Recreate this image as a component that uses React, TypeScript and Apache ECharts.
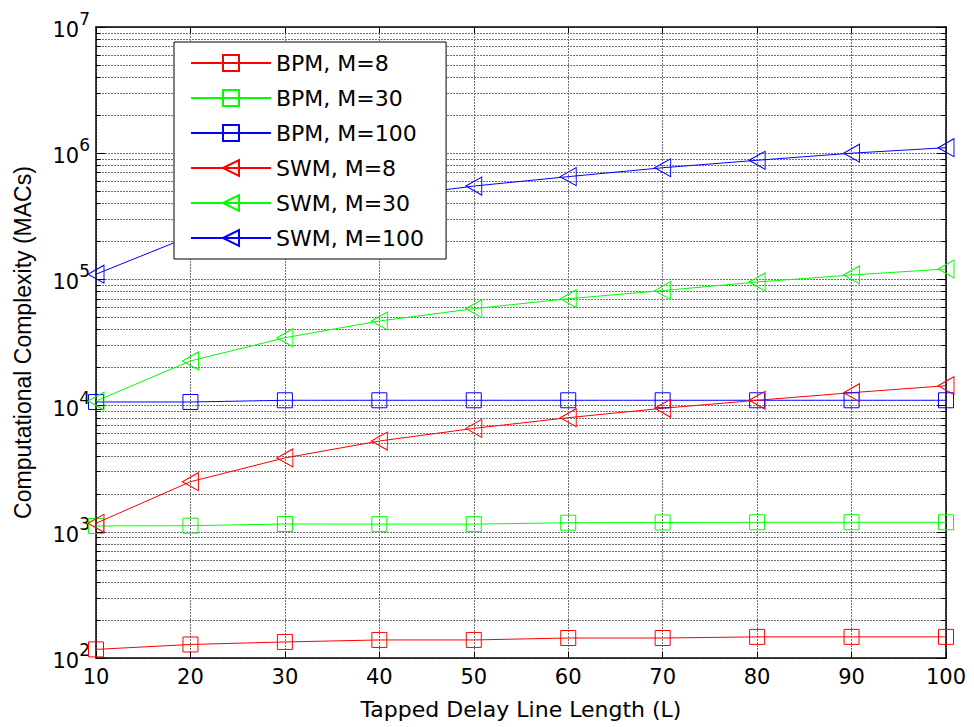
import React, { useEffect, useRef } from "react";
import * as echarts from "echarts";

const L = [10, 20, 30, 40, 50, 60, 70, 80, 90, 100];
const bpm8 = [117, 128, 134, 139, 139, 144, 144, 147, 147, 147];
const bpm30 = [1112, 1118, 1153, 1150, 1150, 1180, 1185, 1190, 1190, 1190];
const bpm100 = [10680, 10680, 11020, 11020, 11020, 11020, 11020, 11020, 11020, 11020];
const swm8 = [1168, 2494, 3850, 5240, 6600, 8020, 9520, 11020, 12650, 14380];
const swm30 = [10870, 22600, 34500, 46800, 58600, 70300, 81500, 95400, 108400, 120900];
const swm100 = [110000, 220000, 330000, 440000, 549000, 652000, 767000, 879000, 1000000, 1106000];

const seriesNames = ["BPM, M=8", "BPM, M=30", "BPM, M=100", "SWM, M=8", "SWM, M=30", "SWM, M=100"];
const decadeExps = [2, 3, 4, 5, 6];
const minorFactors = [2, 3, 4, 5, 6, 7, 8, 9];

const RED = "#ff0000";
const GREEN = "#00ff00";
const BLUE = "#0000ff";
const FONT = "DejaVu Sans";

export default function App() {
  const ref = useRef<HTMLDivElement>(null);
  useEffect(() => {
    if (!ref.current) return;
    const chart = echarts.init(ref.current, null, { renderer: "svg" });
    const pairs = (ys: number[]) => L.map((x, i) => [x, ys[i]]);
    const mk = (name: string, ys: number[], color: string, tri: boolean) => ({
      name,
      type: "line",
      xAxisIndex: 0,
      yAxisIndex: 0,
      data: pairs(ys),
      symbol: tri ? "triangle" : "rect",
      symbolRotate: tri ? 90 : 0,
      symbolSize: tri ? [18, 16] : 15,
      lineStyle: { color, width: 1 },
      itemStyle: { color: "transparent", borderColor: color, borderWidth: 1 },
      z: 3,
      silent: true,
    });
    const minorVals: number[] = [];
    decadeExps.forEach((e) => minorFactors.forEach((f) => minorVals.push(f * Math.pow(10, e))));
    const gridStyle = { color: "#707070", width: 1, type: [2, 1] as any };
    const tickStyle = { color: "#000", width: 1, type: "solid" };
    const mlData: any[] = [];
    minorVals.forEach((v) => {
      mlData.push([{ coord: [10, v], lineStyle: gridStyle }, { coord: [100, v] }]);
      mlData.push([{ coord: [10, v], lineStyle: tickStyle }, { coord: [10.5, v] }]);
      mlData.push([{ coord: [99.5, v], lineStyle: tickStyle }, { coord: [100, v] }]);
    });

    chart.setOption({
      animation: false,
      backgroundColor: "#ffffff",
      grid: { left: 96, right: 28, top: 27, bottom: 69, containLabel: false },
      legend: {
        data: seriesNames,
        orient: "vertical",
        left: 174,
        top: 42,
        padding: [10, 22, 10, 16],
        itemWidth: 80,
        itemHeight: 20,
        itemGap: 13,
        backgroundColor: "#ffffff",
        borderColor: "#000000",
        borderWidth: 1,
        borderRadius: 0,
        selectedMode: false,
        textStyle: { fontFamily: FONT, fontSize: 22, color: "#000" },
        z: 10,
      },
      xAxis: [
        {
          type: "value",
          min: 10,
          max: 100,
          interval: 10,
          name: "Tapped Delay Line Length (L)",
          nameLocation: "middle",
          nameGap: 40,
          nameTextStyle: { fontFamily: FONT, fontSize: 22, color: "#000" },
          axisLine: { show: true, lineStyle: { color: "#000", width: 1.5 } },
          axisTick: { show: true, inside: true, length: 6, lineStyle: { color: "#000" } },
          axisLabel: { fontFamily: FONT, fontSize: 21, color: "#000", margin: 8 },
          splitLine: { show: true, lineStyle: gridStyle },
        },
        {
          type: "value",
          position: "top",
          min: 10,
          max: 100,
          interval: 10,
          axisLine: { show: true, lineStyle: { color: "#000", width: 1.5 } },
          axisTick: { show: true, inside: true, length: 6, lineStyle: { color: "#000" } },
          axisLabel: { show: false },
          splitLine: { show: false },
        },
      ],
      yAxis: [
        {
          type: "log",
          logBase: 10,
          min: 100,
          max: 10000000,
          name: "Computational Complexity (MACs)",
          nameLocation: "middle",
          nameGap: 62,
          nameTextStyle: { fontFamily: "Liberation Sans", fontSize: 23, color: "#000" },
          axisLine: { show: true, lineStyle: { color: "#000", width: 1.5 } },
          axisTick: { show: true, inside: true, length: 9, lineStyle: { color: "#000" } },
          axisLabel: {
            margin: 6,
            formatter: (v: number) => `{b|10}{e|${Math.round(Math.log10(v))}}`,
            rich: {
              b: { fontFamily: FONT, fontSize: 21, color: "#000", lineHeight: 30, height: 24, verticalAlign: "bottom" },
              e: { fontFamily: FONT, fontSize: 17, color: "#000", lineHeight: 14, height: 14, verticalAlign: "top" },
            },
          },
          splitLine: { show: true, lineStyle: gridStyle },
        },
        {
          type: "log",
          logBase: 10,
          min: 100,
          max: 10000000,
          position: "right",
          axisLine: { show: true, lineStyle: { color: "#000", width: 1.5 } },
          axisTick: { show: true, inside: true, length: 9, lineStyle: { color: "#000" } },
          axisLabel: { show: false },
          splitLine: { show: false },
        },
      ],
      series: [
        {
          name: "grid-minor",
          type: "line",
          xAxisIndex: 0,
          yAxisIndex: 0,
          data: [],
          silent: true,
          markLine: {
            silent: true,
            symbol: ["none", "none"],
            label: { show: false },
            z: 1,
            animation: false,
            lineStyle: gridStyle,
            data: mlData,
          },
        },
        mk(seriesNames[0], bpm8, RED, false),
        mk(seriesNames[1], bpm30, GREEN, false),
        mk(seriesNames[2], bpm100, BLUE, false),
        mk(seriesNames[3], swm8, RED, true),
        mk(seriesNames[4], swm30, GREEN, true),
        mk(seriesNames[5], swm100, BLUE, true),
      ],
    });
    return () => chart.dispose();
  }, []);
  return (
    <div
      ref={ref}
      style={{ position: "fixed", left: 0, top: 0, width: 974, height: 727, background: "#fff" }}
    />
  );
}
